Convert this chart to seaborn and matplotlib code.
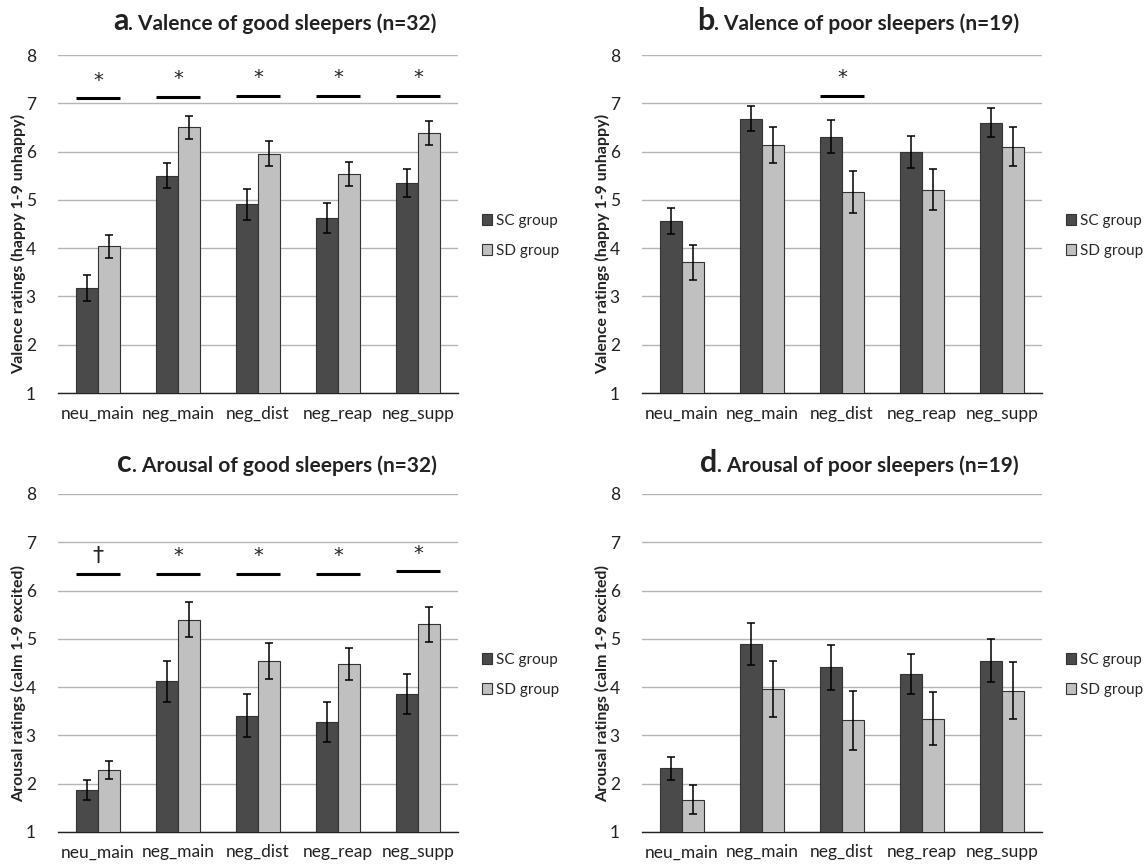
import seaborn as sns
import pandas as pd
import numpy as np
import matplotlib.pyplot as plt

# ---- data ----
conditions = ["neu_main", "neg_main", "neg_dist", "neg_reap", "neg_supp"]
groups = ["SC group", "SD group"]

# a. valence, good sleepers
val_good_sc = [3.17, 5.50, 4.91, 4.62, 5.35]
val_good_sc_err = [0.27, 0.26, 0.32, 0.31, 0.29]
val_good_sd = [4.04, 6.50, 5.96, 5.53, 6.38]
val_good_sd_err = [0.24, 0.23, 0.26, 0.25, 0.25]

# b. valence, poor sleepers
val_poor_sc = [4.56, 6.68, 6.31, 6.00, 6.60]
val_poor_sc_err = [0.27, 0.26, 0.34, 0.33, 0.30]
val_poor_sd = [3.71, 6.13, 5.16, 5.21, 6.10]
val_poor_sd_err = [0.36, 0.37, 0.44, 0.43, 0.40]

# c. arousal, good sleepers
aro_good_sc = [1.87, 4.12, 3.41, 3.28, 3.86]
aro_good_sc_err = [0.21, 0.42, 0.44, 0.41, 0.42]
aro_good_sd = [2.29, 5.40, 4.54, 4.48, 5.30]
aro_good_sd_err = [0.19, 0.36, 0.38, 0.34, 0.36]

# d. arousal, poor sleepers
aro_poor_sc = [2.32, 4.89, 4.41, 4.27, 4.55]
aro_poor_sc_err = [0.24, 0.44, 0.47, 0.42, 0.45]
aro_poor_sd = [1.67, 3.97, 3.31, 3.35, 3.93]
aro_poor_sd_err = [0.30, 0.58, 0.61, 0.55, 0.59]

# significance marks (symbol, line height) per condition
sig_a = ["*", "*", "*", "*", "*"]
sig_a_y = [7.10, 7.14, 7.15, 7.15, 7.16]
sig_b = [None, None, "*", None, None]
sig_b_y = [None, None, 7.16, None, None]
sig_c = ["\u2020", "*", "*", "*", "*"]
sig_c_y = [6.34, 6.34, 6.35, 6.35, 6.40]
sig_d = [None] * 5
sig_d_y = [None] * 5

titles = [("a", "Valence of good sleepers (n=32)"),
          ("b", "Valence of poor sleepers (n=19)"),
          ("c", "Arousal of good sleepers (n=32)"),
          ("d", "Arousal of poor sleepers (n=19)")]
ylabels = ["Valence ratings (happy 1-9 unhappy)",
           "Valence ratings (happy 1-9 unhappy)",
           "Arousal ratings (calm 1-9 excited)",
           "Arousal ratings (calm 1-9 excited)"]

panels = [
    (val_good_sc, val_good_sc_err, val_good_sd, val_good_sd_err, sig_a, sig_a_y),
    (val_poor_sc, val_poor_sc_err, val_poor_sd, val_poor_sd_err, sig_b, sig_b_y),
    (aro_good_sc, aro_good_sc_err, aro_good_sd, aro_good_sd_err, sig_c, sig_c_y),
    (aro_poor_sc, aro_poor_sc_err, aro_poor_sd, aro_poor_sd_err, sig_d, sig_d_y),
]

sns.set_style("white")
plt.rcParams['font.family'] = ['Lato', 'DejaVu Sans']

fig = plt.figure(figsize=(11.46, 8.66), dpi=100)
W, H = 1146, 866
# axes boxes in pixels: left, top, right, bottom
boxes = [(58, 55, 458, 393), (642, 55, 1042, 393),
         (58, 494, 458, 832), (642, 494, 1042, 832)]
title_x = [113, 697, 117, 700]
title_y = [30, 30, 472, 472]

pal = {"SC group": "#4a4a4a", "SD group": "#c0c0c0"}

for i, (sc, sc_e, sd, sd_e, sig, sig_y) in enumerate(panels):
    l, t, r, b = boxes[i]
    ax = fig.add_axes([l / W, 1 - b / H, (r - l) / W, (b - t) / H])

    df = pd.DataFrame({
        "condition": conditions * 2,
        "group": [groups[0]] * 5 + [groups[1]] * 5,
        "rating": sc + sd,
    })
    sns.barplot(data=df, x="condition", y="rating", hue="group", palette=pal,
                width=0.56, edgecolor="#333333", linewidth=0.8, ax=ax,
                errorbar=None, zorder=3)

    errs = [sc_e, sd_e]
    for cont, err in zip(ax.containers, errs):
        xs = [p.get_x() + p.get_width() / 2 for p in cont.patches]
        ys = [p.get_height() for p in cont.patches]
        ax.errorbar(xs, ys, yerr=err, fmt="none", ecolor="black",
                    elinewidth=1.1, capsize=3, capthick=1.1, zorder=4)

    # significance lines
    for k, (s, yy) in enumerate(zip(sig, sig_y)):
        if s is None:
            continue
        ax.plot([k - 0.27, k + 0.27], [yy, yy], color="black", lw=2.2,
                solid_capstyle="butt", zorder=4, clip_on=False)
        ax.text(k, yy + 0.18, s, ha="center", va="bottom",
                fontsize=14 if s == "*" else 16, color="#222222",
                family=["DejaVu Sans"])

    ax.set_ylim(1, 8)
    ax.set_xlim(-0.5, 4.5)
    ax.set_yticks(range(1, 9))
    ax.yaxis.grid(True, color="#b5b5b5", lw=1)
    ax.set_axisbelow(True)
    for sp in ["left", "right", "top"]:
        ax.spines[sp].set_visible(False)
    ax.spines["bottom"].set_color("#222222")
    ax.spines["bottom"].set_linewidth(1)
    ax.tick_params(axis="y", length=0, pad=16, labelsize=12.5, labelcolor="#222222")
    ax.tick_params(axis="x", length=0, pad=9, labelsize=12.5, labelcolor="#222222")
    ax.set_xticks(np.arange(-0.5, 5, 1), minor=True)
    ax.tick_params(axis="x", which="minor", length=5, width=1, color="#222222",
                   direction="out")
    ax.set_xlabel("")
    ax.set_ylabel(ylabels[i], fontsize=11.5, fontweight="bold", color="#222222")
    ax.yaxis.set_label_coords(-0.08, 0.44)

    ax.legend(loc="center left", bbox_to_anchor=(1.045, 0.465), frameon=False,
              handlelength=0.65, handleheight=0.65, handletextpad=0.25,
              labelspacing=1.05, borderaxespad=0, fontsize=11)

    # title: big letter + bold text
    letter, rest = titles[i]
    tt = fig.text(title_x[i] / W, 1 - title_y[i] / H, letter, fontsize=22,
                  fontweight="bold", color="#222222", ha="left", va="baseline")
    ax.annotate(". " + rest, xy=(1, 0), xycoords=tt, xytext=(0, 1),
                textcoords="offset points", ha="left", va="bottom",
                fontsize=15, fontweight="bold", color="#222222")

plt.savefig("out.png", dpi=100)
